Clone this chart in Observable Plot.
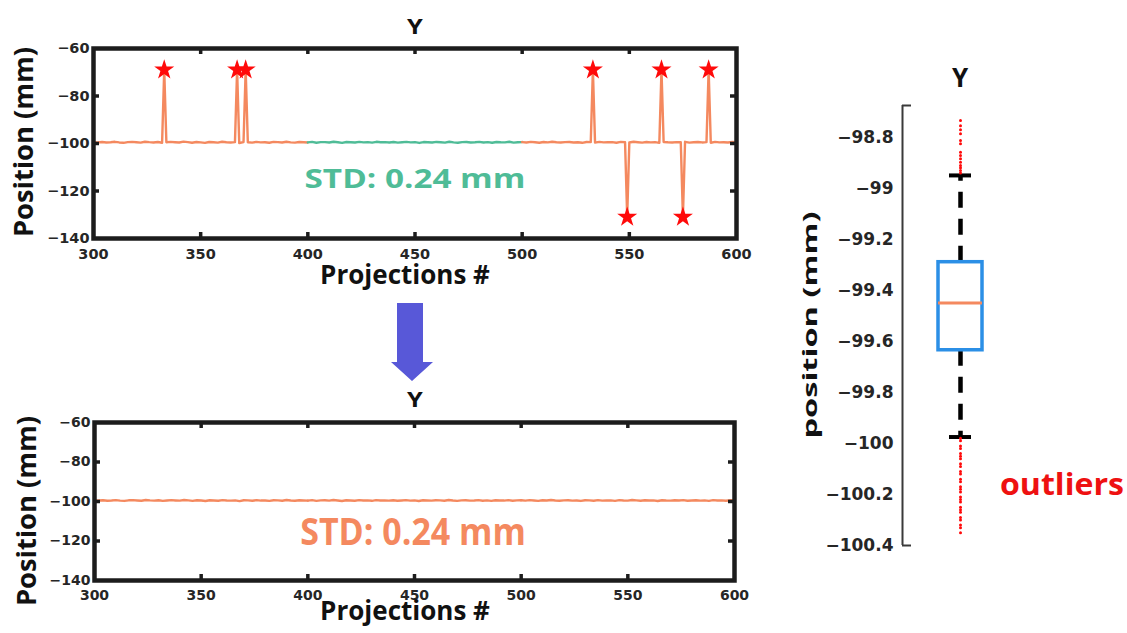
<!DOCTYPE html>
<html><head><meta charset="utf-8">
<script src="https://cdn.jsdelivr.net/npm/d3@7"></script>
<script src="https://cdn.jsdelivr.net/npm/@observablehq/plot@0.6"></script>
<style>
html,body{margin:0;padding:0;background:#fff;}
#fig{position:relative;width:1127px;height:633px;overflow:hidden;background:#fff;}
#fig .panel{position:absolute;}
#fig svg{display:block;}
#overlay{position:absolute;left:0;top:0;pointer-events:none;}
</style></head><body><div id="fig"></div>
<script>
// ---------- data ----------
const projStart = 300, projStep = 2;
const baseline = [
-99.42,-99.51,-99.38,-99.60,-99.47,-99.29,-99.55,-99.71,-99.40,-99.33,
-99.48,-99.62,-99.25,-99.44,-99.57,-99.36,-99.69,-99.50,-99.31,-99.46,
-99.58,-99.22,-99.43,-99.66,-99.39,-99.52,-99.74,-99.35,-99.47,-99.61,
-99.28,-99.49,-99.56,-99.41,-99.83,-99.37,-99.45,-99.64,-99.30,-99.53,
-99.46,-99.70,-99.34,-99.42,-99.59,-99.27,-99.51,-99.63,-99.39,-99.48,
-99.55,-99.32,-99.68,-99.44,-99.40,-99.57,-99.24,-99.49,-99.72,-99.36,
-99.47,-99.60,-99.33,-99.52,-99.41,-99.65,-99.29,-99.50,-99.44,-99.58,
-99.37,-99.62,-99.46,-99.30,-99.54,-99.43,-99.76,-99.39,-99.48,-99.56,
-99.34,-99.45,-99.61,-99.26,-99.51,-99.67,-99.42,-99.38,-99.55,-99.47,
-99.31,-99.59,-99.44,-99.70,-99.36,-99.49,-99.53,-99.28,-99.62,-99.45,
-99.40,-99.57,-99.33,-99.48,-99.66,-99.39,-99.52,-99.25,-99.46,-99.60,
-99.43,-99.35,-99.58,-99.50,-99.71,-99.38,-99.44,-99.63,-99.30,-99.54,
-99.47,-99.41,-99.68,-99.32,-99.49,-99.56,-99.27,-99.45,-99.61,-99.37,
-99.52,-99.43,-99.74,-99.34,-99.50,-99.58,-99.40,-99.46,-99.29,-99.64,
-99.48,-99.36,-99.55,-99.42,-99.69,-99.33,-99.51,-99.45,-99.60,-99.38,
-99.47];
const spikeProj = [333, 367, 371, 533, 549, 565, 575, 587];
const spikeVal  = [-69, -69, -69, -69, -131, -69, -131, -69];
const cleanRange = [400, 500];          // segment drawn in green
const xTicks = [300, 350, 400, 450, 500, 550, 600];
const yTicks = [-140, -120, -100, -80, -60];

const boxTicks = [-100.4, -100.2, -100, -99.8, -99.6, -99.4, -99.2, -99, -98.8];
const boxAxisMin = -100.4, boxAxisMax = -98.676;
const boxQ1 = -99.635, boxMedian = -99.45, boxQ3 = -99.29;
const whiskerLo = -99.975, whiskerHi = -98.95;
const outliersHigh = [-98.735,-98.755,-98.771,-98.787,-98.813,-98.826,-98.859,-98.872,-98.885,-98.898,-98.911,-98.92,-98.931,-98.94];
const outliersLow = [-99.98,-99.99,-100.01,-100.02,-100.04,-100.05,-100.06,-100.08,-100.09,-100.11,-100.12,-100.14,-100.15,-100.17,-100.18,-100.19,-100.21,-100.22,-100.23,-100.25,-100.26,-100.27,-100.29,-100.30,-100.32,-100.33,-100.35];

// ---------- colours ----------
const ORANGE = "#f4895f", GREEN = "#4fbc97", RED = "#ff0a0a", BLUE = "#2b8fe6", INK = "#1c1c1c";

const fig = document.getElementById("fig");
function place(node, left, top) {
  const d = document.createElement("div");
  d.className = "panel"; d.style.left = left + "px"; d.style.top = top + "px";
  d.appendChild(node); fig.appendChild(d);
}
const fmt = d => (d < 0 ? "\u2212" : "") + String(Math.abs(d));

const baseRows = baseline.map((v, i) => ({x: projStart + i * projStep, y: v}));
const spikes = spikeProj.map((p, i) => ({x: p, y: spikeVal[i]}));
const topRows = baseRows.concat(spikes).sort((a, b) => a.x - b.x);

function lineChart({rows, stars, width, height, m, fontSize, colorOf}) {
  const xd = [xTicks[0], xTicks[xTicks.length - 1]];
  const yd = [yTicks[0], yTicks[yTicks.length - 1]];
  const yLen = 6 * (yd[1] - yd[0]) / (height - m.top - m.bottom);
  const xLen = 6 * (xd[1] - xd[0]) / (width - m.left - m.right);
  const innerX = xTicks.slice(1, -1), innerY = yTicks.slice(1, -1);
  const segs = [
    rows.filter(d => d.x <= cleanRange[0]),
    rows.filter(d => d.x >= cleanRange[0] && d.x <= cleanRange[1]),
    rows.filter(d => d.x >= cleanRange[1])
  ];
  return Plot.plot({
    width, height,
    marginTop: m.top, marginRight: m.right, marginBottom: m.bottom, marginLeft: m.left,
    x: {domain: xd}, y: {domain: yd},
    style: {fontFamily: "DejaVu Sans", fontWeight: "bold", fontSize: fontSize + "px", color: "#262626", background: "transparent", overflow: "visible"},
    marks: [
      ...segs.map((s, i) => Plot.line(s, {x: "x", y: "y", stroke: colorOf(i), strokeWidth: 2.4})),
      stars ? Plot.dot(stars, {x: "x", y: "y", symbol: "star", r: 6.3, fill: RED, stroke: "none"}) : null,
      Plot.ruleX(innerX, {x: d => d, y1: yd[0], y2: yd[0] + yLen, stroke: INK, strokeWidth: 3.5}),
      Plot.ruleX(innerX, {x: d => d, y1: yd[1], y2: yd[1] - yLen, stroke: INK, strokeWidth: 3.5}),
      Plot.ruleY(innerY, {y: d => d, x1: xd[0], x2: xd[0] + xLen, stroke: INK, strokeWidth: 3.5}),
      Plot.ruleY(innerY, {y: d => d, x1: xd[1], x2: xd[1] - xLen, stroke: INK, strokeWidth: 3.5}),
      Plot.frame({stroke: INK, strokeWidth: 4.5}),
      Plot.axisX({ticks: xTicks, tickSize: 0, tickPadding: 10, label: null, tickFormat: fmt}),
      Plot.axisY({ticks: yTicks, tickSize: 0, tickPadding: 4, label: null, tickFormat: fmt})
    ]
  });
}

// top chart (with outliers)
place(lineChart({rows: topRows, stars: spikes, width: 760, height: 300,
  m: {top: 48, right: 24, bottom: 62, left: 93}, fontSize: 14.5,
  colorOf: i => i === 1 ? GREEN : ORANGE}), 0, 0);

// bottom chart (outliers removed)
place(lineChart({rows: baseRows, stars: null, width: 760, height: 263,
  m: {top: 52, right: 26, bottom: 53, left: 94}, fontSize: 14,
  colorOf: () => ORANGE}), 0, 370);

// box plot
{
  const W = 300, H = 510, m = {top: 55, right: 62, bottom: 15, left: 122};
  const pxX = 2 / (W - m.left - m.right);
  const boxHalf = 22 * pxX, capHalf = 11 * pxX, bracket = 9 * pxX;
  const outliers = outliersHigh.concat(outliersLow);
  place(Plot.plot({
    width: W, height: H,
    marginTop: m.top, marginRight: m.right, marginBottom: m.bottom, marginLeft: m.left,
    x: {domain: [-1, 1], axis: null},
    y: {domain: [boxAxisMin, boxAxisMax]},
    style: {fontFamily: "DejaVu Sans", fontWeight: "bold", fontSize: "17px", color: "#262626", background: "transparent", overflow: "visible"},
    marks: [
      Plot.ruleX([-1], {y1: boxAxisMin, y2: boxAxisMax, stroke: "#3a3a3a", strokeWidth: 2}),
      Plot.ruleY([boxAxisMin, boxAxisMax], {x1: -1, x2: -1 + bracket, stroke: "#3a3a3a", strokeWidth: 2}),
      Plot.axisY({ticks: boxTicks, tickSize: 0, tickPadding: 9, label: null, tickFormat: fmt}),
      Plot.ruleX([0], {y1: boxQ3, y2: whiskerHi, stroke: "#000", strokeWidth: 4.5, strokeDasharray: "16,11"}),
      Plot.ruleX([0], {y1: boxQ1, y2: whiskerLo, stroke: "#000", strokeWidth: 4.5, strokeDasharray: "16,11"}),
      Plot.rect([0], {x1: -boxHalf, x2: boxHalf, y1: boxQ1, y2: boxQ3, fill: "#fff", stroke: BLUE, strokeWidth: 3.5}),
      Plot.ruleY([boxMedian], {x1: -boxHalf, x2: boxHalf, stroke: ORANGE, strokeWidth: 3}),
      Plot.ruleY([whiskerHi, whiskerLo], {x1: -capHalf, x2: capHalf, stroke: "#000", strokeWidth: 4}),
      Plot.dot(outliers, {x: () => 0, y: d => d, r: 1.5, fill: RED, stroke: "none"})
    ]
  }), 780, 50);
}

// ---------- annotations (text + arrow) ----------
const svg = d3.select(fig).append("svg").attr("id", "overlay").attr("width", 1127).attr("height", 633);
svg.append("polygon")
  .attr("points", "397,303 423,303 423,362 433,362 412,381 391,362 397,362")
  .attr("fill", "#5858d8");
const labels = [
  {t: "Y", x: 415, y: 34, s: 22, sx: 1.15, sy: 1, c: "#111"},
  {t: "Projections #", x: 405, y: 284, s: 26, sx: 1, sy: 1, c: "#111"},
  {t: "Position (mm)", x: 33, y: 142, s: 26, sx: 1.05, sy: 1, r: -90, c: "#111"},
  {t: "STD: 0.24 mm", x: 415, y: 188, s: 26, sx: 1.28, sy: 1, c: GREEN},
  {t: "Y", x: 415, y: 407, s: 22, sx: 1.15, sy: 1, c: "#111"},
  {t: "Projections #", x: 405, y: 620, s: 26, sx: 1, sy: 1, c: "#111"},
  {t: "Position (mm)", x: 36, y: 511, s: 26, sx: 1.05, sy: 1, r: -90, c: "#111"},
  {t: "STD: 0.24 mm", x: 413, y: 545, s: 34, sx: 1, sy: 1.1, c: ORANGE},
  {t: "Y", x: 960, y: 87, s: 26, sx: 1, sy: 1, c: "#111"},
  {t: "position (mm)", x: 817, y: 325, s: 20, sx: 1.63, sy: 1, r: -90, c: "#111"},
  {t: "outliers", x: 1000, y: 495, s: 30, sx: 1.07, sy: 1, c: "#ee1111", a: "start"}
];
svg.selectAll("text.lbl").data(labels).join("text")
  .attr("class", "lbl")
  .attr("transform", d => `translate(${d.x},${d.y}) rotate(${d.r || 0}) scale(${d.sx},${d.sy})`)
  .attr("text-anchor", d => d.a || "middle")
  .attr("font-family", "'Open Sans', sans-serif")
  .attr("font-weight", 700)
  .attr("font-size", d => d.s)
  .attr("fill", d => d.c)
  .text(d => d.t);
</script></body></html>
